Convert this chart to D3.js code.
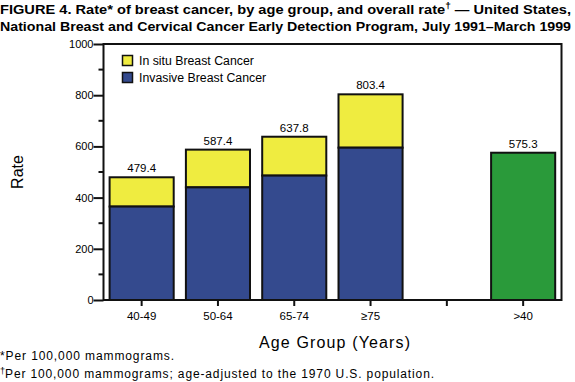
<!DOCTYPE html>
<html><head><meta charset="utf-8">
<script src="https://cdn.jsdelivr.net/npm/d3@7"></script>
<style>body{margin:0;background:#fff;} svg{display:block;font-family:"Liberation Sans",Arial,sans-serif;}</style>
</head><body><svg id="c" width="575" height="382"></svg>
<script>
const categories = ["40-49", "50-64", "65-74", "\u226575", "", ">40"];
const invasive = [365, 440, 486, 595, null, null];
const totals = [479.4, 587.4, 637.8, 803.4, null, null];
const overall = [null, null, null, null, null, 575.3];
const yTicks = [0, 200, 400, 600, 800, 1000];
const minorTicks = [100, 300, 500, 700, 900];
const legendLabels = ["In situ Breast Cancer", "Invasive Breast Cancer"];
const colors = {insitu: "#EFEC40", invasive: "#344A8E", overall: "#2A9A3A"};

const svg = d3.select("#c");
const L = 103.5, R = 561.5, T = 44, B = 300;
const x = d3.scaleBand().domain(categories.map((c,i)=>i)).range([L, L + 6*76.3]).paddingInner(0.16).paddingOuter(0.08);
const y = d3.scaleLinear().domain([0, 1000]).range([B, T]);

// title
const title = svg.append("g").attr("font-weight", "bold").attr("font-size", 13);
title.append("text").attr("x", 0).attr("y", 14).attr("textLength", 571).attr("lengthAdjust","spacingAndGlyphs")
  .html('FIGURE 4. Rate* of breast cancer, by age group, and overall rate<tspan dy="-5" font-size="9">\u2020</tspan><tspan dy="5"> \u2014 United States,</tspan>');
title.append("text").attr("x", 0).attr("y", 31).attr("textLength", 571).attr("lengthAdjust","spacingAndGlyphs")
  .text("National Breast and Cervical Cancer Early Detection Program, July 1991\u2013March 1999");

// frame
svg.append("rect").attr("x", L).attr("y", T).attr("width", R-L).attr("height", B-T)
  .attr("fill", "none").attr("stroke", "#111").attr("stroke-width", 2);

// bars
const bw = x.bandwidth();
categories.forEach((c,i)=>{
  if (invasive[i] != null) {
    svg.append("rect").attr("x", x(i)).attr("y", y(totals[i])).attr("width", bw).attr("height", y(invasive[i]) - y(totals[i]))
      .attr("fill", colors.insitu).attr("stroke", "#111").attr("stroke-width", 2);
    svg.append("rect").attr("x", x(i)).attr("y", y(invasive[i])).attr("width", bw).attr("height", B - y(invasive[i]))
      .attr("fill", colors.invasive).attr("stroke", "#111").attr("stroke-width", 2);
    svg.append("text").attr("x", x(i)+bw/2).attr("y", y(totals[i]) - 5).attr("text-anchor","middle").attr("font-size", 11.5).text(totals[i].toFixed(1));
  }
  if (overall[i] != null) {
    svg.append("rect").attr("x", x(i)).attr("y", y(overall[i])).attr("width", bw).attr("height", B - y(overall[i]))
      .attr("fill", colors.overall).attr("stroke", "#111").attr("stroke-width", 2);
    svg.append("text").attr("x", x(i)+bw/2).attr("y", y(overall[i]) - 5).attr("text-anchor","middle").attr("font-size", 11.5).text(overall[i].toFixed(1));
  }
});

// y axis
const yAxis = svg.append("g").attr("transform", `translate(${L},0)`)
  .call(d3.axisLeft(y).tickValues(yTicks).tickSize(10).tickPadding(0).tickFormat(d3.format("d")));
yAxis.select(".domain").remove();
yAxis.selectAll("line").attr("stroke", "#111").attr("stroke-width", 2);
yAxis.selectAll("text").attr("font-size", 11).attr("fill","#000").attr("font-family","Liberation Sans, Arial, sans-serif");
svg.append("g").selectAll("line").data(minorTicks).join("line")
  .attr("x1", L-5).attr("x2", L).attr("y1", d=>y(d)).attr("y2", d=>y(d)).attr("stroke","#111").attr("stroke-width",2);

// x axis
const xAxis = svg.append("g").attr("transform", `translate(0,${B})`)
  .call(d3.axisBottom(x).tickSize(6).tickPadding(6).tickFormat(i=>categories[i]));
xAxis.select(".domain").remove();
xAxis.selectAll("line").attr("stroke", "#111").attr("stroke-width", 2);
xAxis.selectAll("text").attr("font-size", 11.5).attr("fill","#000").attr("font-family","Liberation Sans, Arial, sans-serif");

// axis titles
svg.append("text").attr("transform", "translate(23,172) rotate(-90)").attr("text-anchor","middle").attr("font-size", 16).text("Rate");
svg.append("text").attr("x", 259).attr("y", 348).attr("font-size", 16).attr("textLength", 151).attr("lengthAdjust","spacing").text("Age Group (Years)");

// legend
const lg = svg.append("g");
legendLabels.forEach((t,k)=>{
  lg.append("rect").attr("x", 122.5).attr("y", 55.5 + k*17).attr("width", 10).attr("height", 10)
    .attr("fill", k===0 ? colors.insitu : colors.invasive).attr("stroke","#111").attr("stroke-width",1.5);
  lg.append("text").attr("x", 139).attr("y", 65 + k*17).attr("font-size", 12.3).text(t);
});

// footnotes
svg.append("text").attr("x", 0).attr("y", 360).attr("font-size", 12).attr("textLength", 174).attr("lengthAdjust","spacing").text("*Per 100,000 mammograms.");
svg.append("text").attr("x", 0).attr("y", 378).attr("font-size", 12)
  .html('<tspan dy="-4" font-size="9">\u2020</tspan><tspan dy="4" textLength="429" lengthAdjust="spacing">Per 100,000 mammograms; age-adjusted to the 1970 U.S. population.</tspan>');
</script></body></html>
